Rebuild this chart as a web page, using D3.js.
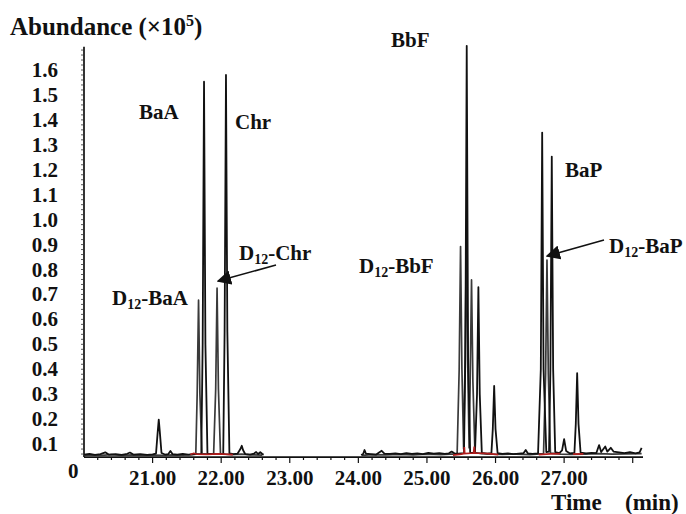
<!DOCTYPE html>
<html>
<head>
<meta charset="utf-8">
<script src="https://cdn.jsdelivr.net/npm/d3@7"></script>
<style>
	body { margin: 0; background: #fff; }
	text { font-family: "Liberation Serif", "Times New Roman", serif; font-weight: bold; fill: #111; }
</style>
</head>
<body>
<svg id="chart" width="686" height="514"></svg>
<script>
'use strict'

// time axis ticks (min) and abundance ticks (x10^5)
var xTickValues = [21, 22, 23, 24, 25, 26, 27];
var xTickLabels = ["21.00", "22.00", "23.00", "24.00", "25.00", "26.00", "27.00"];
var yTickValues = [0.1, 0.2, 0.3, 0.4, 0.5, 0.6, 0.7, 0.8, 0.9, 1.0, 1.1, 1.2, 1.3, 1.4, 1.5, 1.6];

// native PAH trace [time, abundance], null = no data
var traceNative = [
	[20.00,0.058],[20.08,0.061],[20.16,0.057],[20.24,0.060],[20.31,0.067],[20.36,0.058],[20.46,0.060],
	[20.55,0.057],[20.63,0.061],[20.67,0.066],[20.72,0.058],[20.82,0.060],[20.92,0.057],[21.00,0.059],
	[21.05,0.062],[21.075,0.150],[21.09,0.198],[21.105,0.150],[21.13,0.064],[21.18,0.058],[21.23,0.060],
	[21.26,0.072],[21.29,0.060],[21.36,0.058],[21.44,0.061],[21.52,0.058],[21.60,0.060],[21.71,0.061],
	[21.73,0.50],[21.75,1.553],[21.77,0.50],[21.80,0.062],[21.88,0.060],[21.96,0.060],[22.03,0.062],
	[22.05,0.55],[22.07,1.58],[22.09,0.55],[22.12,0.063],[22.18,0.060],[22.24,0.062],[22.28,0.080],
	[22.30,0.093],[22.32,0.075],[22.35,0.060],[22.42,0.058],[22.48,0.062],[22.51,0.068],[22.54,0.060],
	[22.57,0.067],[22.60,0.060],[22.62,0.058],
	[23.00,null],
	[24.04,0.056],[24.07,0.060],[24.09,0.076],[24.11,0.062],[24.18,0.060],[24.26,0.058],[24.34,0.073],
	[24.38,0.062],[24.46,0.061],[24.54,0.063],[24.62,0.060],[24.70,0.064],[24.78,0.061],[24.86,0.063],
	[24.94,0.060],[25.02,0.065],[25.10,0.062],[25.18,0.064],[25.26,0.061],[25.32,0.063],[25.36,0.070],
	[25.40,0.063],[25.46,0.062],[25.54,0.064],[25.56,0.45],[25.58,1.697],[25.60,0.45],[25.63,0.066],
	[25.70,0.064],[25.73,0.30],[25.75,0.729],[25.77,0.30],[25.80,0.065],[25.88,0.062],[25.94,0.064],
	[25.96,0.16],[25.98,0.333],[26.00,0.16],[26.03,0.064],[26.10,0.061],[26.18,0.063],[26.26,0.060],
	[26.34,0.062],[26.41,0.064],[26.44,0.076],[26.47,0.063],[26.54,0.061],[26.62,0.063],[26.66,0.40],
	[26.68,1.349],[26.70,0.40],[26.74,0.068],[26.78,0.070],[26.80,0.40],[26.82,1.253],[26.84,0.40],
	[26.87,0.068],[26.93,0.064],[26.97,0.075],[27.00,0.12],[27.03,0.072],[27.08,0.063],[27.15,0.065],
	[27.17,0.18],[27.19,0.384],[27.21,0.18],[27.24,0.066],[27.32,0.063],[27.40,0.065],[27.47,0.064],
	[27.51,0.096],[27.54,0.068],[27.60,0.090],[27.63,0.070],[27.68,0.085],[27.72,0.070],[27.80,0.067],
	[27.88,0.064],[27.96,0.068],[28.04,0.063],[28.10,0.067],[28.13,0.085]
];

// deuterated internal standard trace
var traceD12 = [
	[20.00,0.055],[20.12,0.057],[20.25,0.055],[20.40,0.058],[20.55,0.055],[20.70,0.057],[20.85,0.055],
	[21.00,0.056],[21.15,0.055],[21.30,0.057],[21.45,0.056],[21.58,0.058],[21.63,0.060],[21.65,0.30],
	[21.67,0.677],[21.69,0.30],[21.72,0.062],[21.80,0.060],[21.89,0.060],[21.92,0.32],[21.94,0.725],
	[21.96,0.32],[21.99,0.062],[22.06,0.060],[22.15,0.058],[22.30,0.060],[22.45,0.057],[22.60,0.056],
	[23.00,null],
	[24.05,0.055],[24.20,0.058],[24.40,0.057],[24.60,0.059],[24.80,0.057],[25.00,0.060],[25.20,0.058],
	[25.35,0.060],[25.44,0.060],[25.47,0.40],[25.49,0.892],[25.51,0.40],[25.535,0.080],[25.555,0.42],
	[25.575,0.93],[25.595,0.42],[25.615,0.085],[25.63,0.35],[25.65,0.758],[25.67,0.35],[25.70,0.066],
	[25.80,0.062],[25.95,0.060],[26.10,0.059],[26.30,0.060],[26.50,0.058],[26.70,0.062],[26.73,0.38],
	[26.75,0.838],[26.77,0.38],[26.80,0.064],[26.95,0.060],[27.10,0.059],[27.30,0.060],[27.50,0.062],
	[27.70,0.060],[27.90,0.061],[28.13,0.062]
];

// integration baselines (red)
var integration = [
	[21.55,0.058],[21.60,0.063],[21.64,0.060],[21.80,0.059],[21.95,0.061],[22.10,0.059],[22.17,0.058],
	[23.00,null],
	[25.38,0.056],[25.50,0.060],[25.54,0.062],[25.545,0.088],[25.55,0.062],[25.68,0.064],[25.69,0.090],
	[25.70,0.064],[25.90,0.062],[26.04,0.058],
	[26.30,null],
	[26.63,0.058],[26.80,0.061],[26.94,0.062],
	[27.05,null],
	[27.13,0.060],[27.28,0.061]
];

// peak labels: text, subscript, rest, x, y (px) and arrows
var peakLabels = [
	{pre: "BaA", sub: "", post: "", x: 139, y: 119},
	{pre: "Chr", sub: "", post: "", x: 235, y: 129},
	{pre: "D", sub: "12", post: "-Chr", x: 239, y: 260},
	{pre: "D", sub: "12", post: "-BaA", x: 112, y: 305},
	{pre: "BbF", sub: "", post: "", x: 391, y: 47},
	{pre: "D", sub: "12", post: "-BbF", x: 359, y: 273},
	{pre: "BaP", sub: "", post: "", x: 565, y: 177},
	{pre: "D", sub: "12", post: "-BaP", x: 609, y: 253}
];
var arrows = [
	{x1: 276, y1: 265, x2: 218, y2: 281},
	{x1: 604, y1: 240, x2: 547, y2: 256}
];

var svg = d3.select("#chart");
var axisValue = 0.048;

var x = d3.scaleLinear().domain([20, 28.15]).range([84, 643]);
var y = d3.scaleLinear().domain([0, 1.6]).range([469, 70]);

svg.append("rect").attr("width", 686).attr("height", 514).attr("fill", "#fff");

var defs = svg.append("defs");
defs.append("marker")
	.attr("id", "head")
	.attr("viewBox", "0 0 10 10")
	.attr("refX", 9).attr("refY", 5)
	.attr("markerWidth", 9).attr("markerHeight", 9)
	.attr("orient", "auto")
	.append("path")
		.attr("d", "M0,0 L10,5 L0,10 Z")
		.attr("fill", "#111");

var line = d3.line()
	.defined(function(d){ return d[1] !== null; })
	.x(function(d){ return x(d[0]); })
	.y(function(d){ return y(d[1]); });

// axes
var y0 = y(axisValue);
svg.append("line")
	.attr("x1", x(20)).attr("x2", x(28.15))
	.attr("y1", y0).attr("y2", y0)
	.attr("stroke", "#111").attr("stroke-width", 1.7);
svg.append("line")
	.attr("x1", x(20)).attr("x2", x(20))
	.attr("y1", y(1.693)).attr("y2", y0)
	.attr("stroke", "#111").attr("stroke-width", 1.7);

var xMinor = d3.range(20.2, 28.1, 0.2);
svg.append("g").selectAll("line")
	.data(xMinor)
	.join("line")
		.attr("x1", function(d){ return x(d); })
		.attr("x2", function(d){ return x(d); })
		.attr("y1", y0)
		.attr("y2", function(d){ return Math.abs(d - Math.round(d)) < 0.01 ? y0 + 6 : y0 + 3; })
		.attr("stroke", "#111").attr("stroke-width", 1.2);

var yMinor = d3.range(0.06, 1.69, 0.02);
svg.append("g").selectAll("line")
	.data(yMinor)
	.join("line")
		.attr("x1", x(20) - 3).attr("x2", x(20))
		.attr("y1", function(d){ return y(d); })
		.attr("y2", function(d){ return y(d); })
		.attr("stroke", "#333").attr("stroke-width", 0.8);

svg.append("g").selectAll("text")
	.data(xTickValues)
	.join("text")
		.attr("x", function(d){ return x(d); })
		.attr("y", 485)
		.attr("text-anchor", "middle")
		.attr("font-size", 21)
		.text(function(d, i){ return xTickLabels[i]; });

svg.append("g").selectAll("text")
	.data(yTickValues)
	.join("text")
		.attr("x", 58)
		.attr("y", function(d){ return y(d) + 7; })
		.attr("text-anchor", "end")
		.attr("font-size", 21)
		.text(function(d){ return d.toFixed(1); });

svg.append("text").attr("x", 68).attr("y", 478).attr("font-size", 21).text("0");

var title = svg.append("text").attr("x", 10).attr("y", 35).attr("font-size", 25);
title.append("tspan").text("Abundance (\u00d710");
title.append("tspan").attr("font-size", 16).attr("dy", -9).text("5");
title.append("tspan").attr("dy", 9).text(")");

svg.append("text").attr("x", 551).attr("y", 510).attr("font-size", 23).text("Time");
svg.append("text").attr("x", 625).attr("y", 510).attr("font-size", 23).text("(min)");

// chromatograms
svg.append("path").datum(traceD12)
	.attr("d", line).attr("fill", "none")
	.attr("stroke", "#3a3a3a").attr("stroke-width", 1.7).attr("stroke-linejoin", "round");
svg.append("path").datum(traceNative)
	.attr("d", line).attr("fill", "none")
	.attr("stroke", "#111").attr("stroke-width", 1.8).attr("stroke-linejoin", "round");
svg.append("path").datum(integration)
	.attr("d", line).attr("fill", "none")
	.attr("stroke", "#b01c1c").attr("stroke-width", 1.7);

// labels
peakLabels.forEach(function(p){
	var t = svg.append("text").attr("x", p.x).attr("y", p.y).attr("font-size", 21);
	t.append("tspan").text(p.pre);
	if(p.sub){
		t.append("tspan").attr("font-size", 14).attr("dy", 4).text(p.sub);
		t.append("tspan").attr("dy", -4).text(p.post);
	}
});

svg.append("g").selectAll("line")
	.data(arrows)
	.join("line")
		.attr("x1", function(d){ return d.x1; })
		.attr("y1", function(d){ return d.y1; })
		.attr("x2", function(d){ return d.x2; })
		.attr("y2", function(d){ return d.y2; })
		.attr("stroke", "#111").attr("stroke-width", 1.6)
		.attr("marker-end", "url(#head)");
</script>
</body>
</html>
